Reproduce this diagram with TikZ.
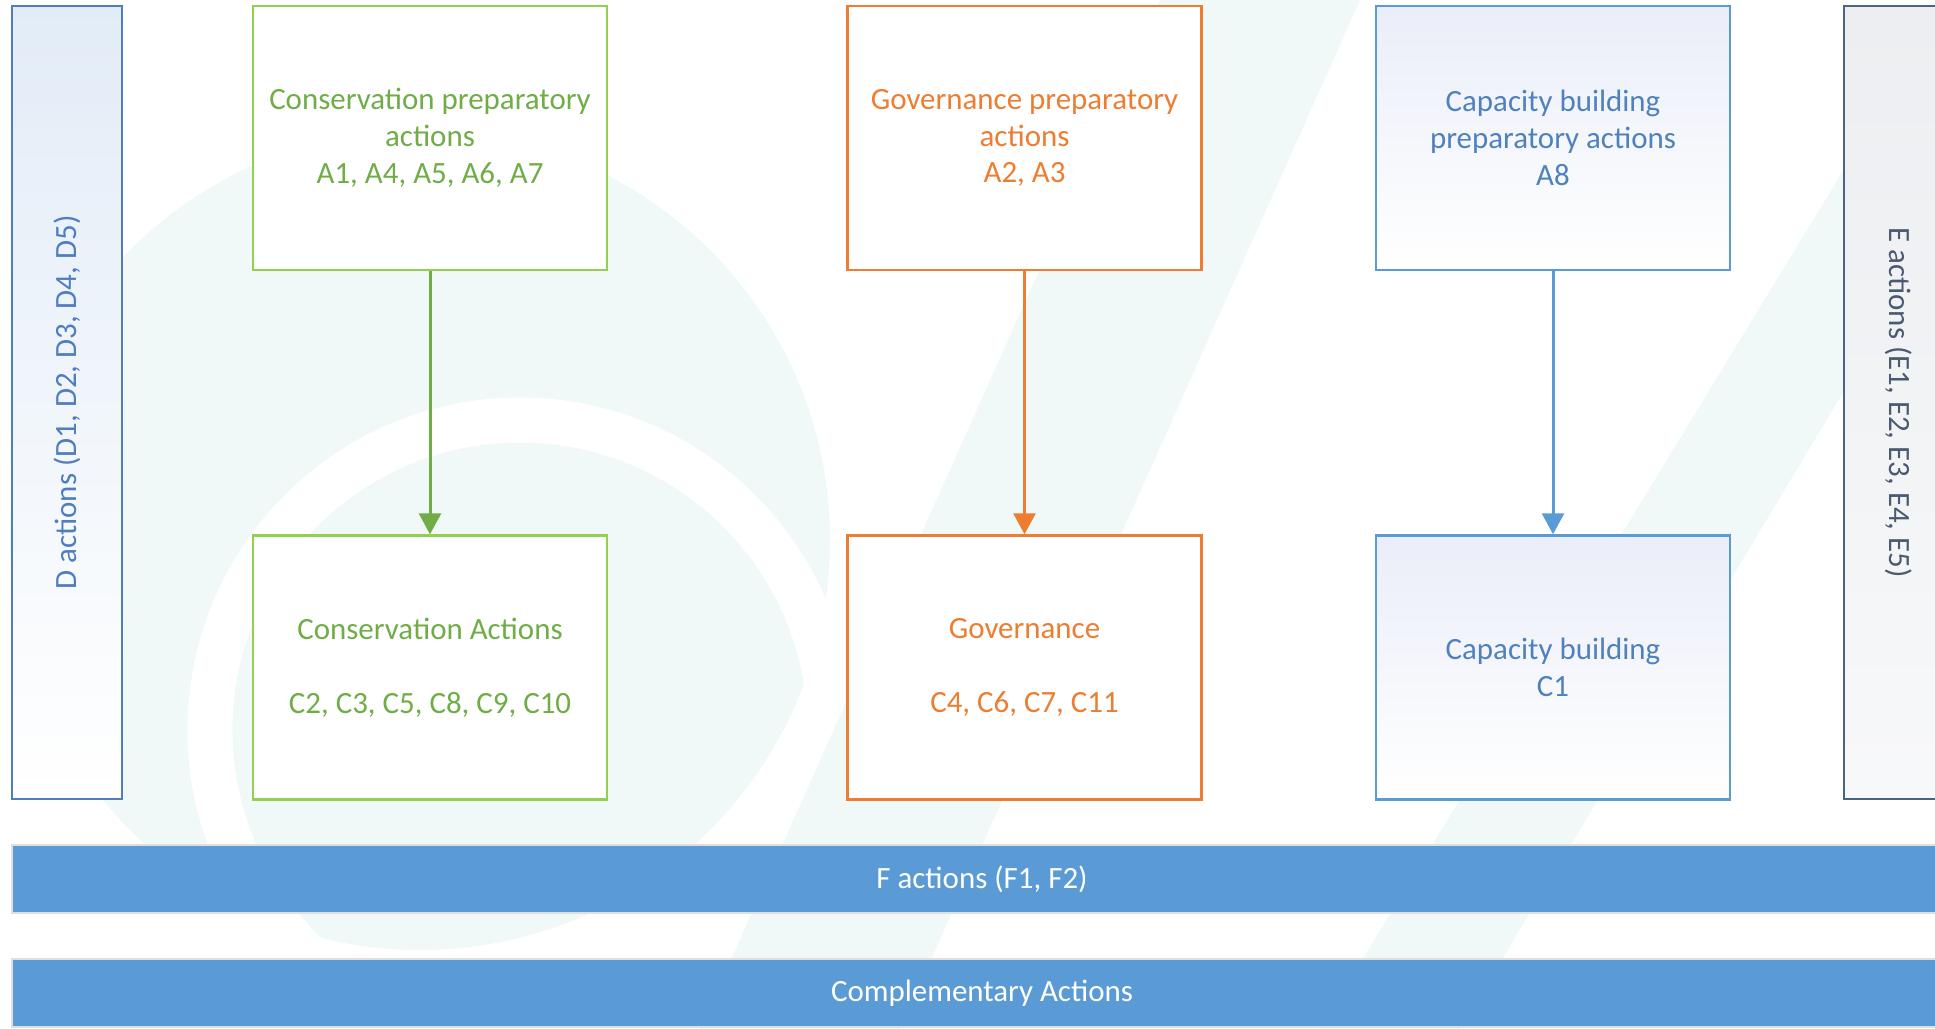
\documentclass[tikz,border=0pt]{standalone}
\usepackage{fontspec}
\setmainfont{Carlito}
\usetikzlibrary{arrows.meta}

\definecolor{consgreen}{HTML}{70AD47}
\definecolor{consline}{HTML}{92D050}
\definecolor{govorange}{HTML}{ED7D31}
\definecolor{capblue}{HTML}{5B9BD5}
\definecolor{captext}{HTML}{4F81BD}
\definecolor{capfill}{HTML}{EAEEF8}
\definecolor{barblue}{HTML}{5B9BD5}
\definecolor{dline}{HTML}{4F7DBF}
\definecolor{dfill}{HTML}{E2ECF7}
\definecolor{eline}{HTML}{4A6584}
\definecolor{etext}{HTML}{4A5A70}
\definecolor{efill}{HTML}{ECEEF1}
\definecolor{wmark}{HTML}{F0F8F8}

\begin{document}
\begin{tikzpicture}[
    font=\fontsize{8.8}{10.5}\selectfont,
    actbox/.style={draw, line width=0.7pt, minimum width=3.54cm, minimum height=2.64cm, align=center, inner sep=0pt},
    sidebox/.style={draw, line width=0.7pt, minimum width=1.10cm, minimum height=7.93cm, inner sep=0pt},
    barbox/.style={fill=barblue, draw=gray!25, line width=0.4pt, text=white, minimum width=19.40cm, minimum height=0.68cm, inner sep=0pt},
    flow/.style={line width=0.85pt, -{Triangle[width=0.22cm,length=0.21cm]}}
]
\useasboundingbox (0,0) rectangle (19.35,-10.29);
\clip (0,0) rectangle (19.35,-10.29);
% watermark
\fill[wmark] (4.2,-5.4) circle (4.1);
\draw[white, line width=0.45cm] (5.2,-7.3) circle (3.1);
\fill[wmark] (7.0,-10.29) -- (9.0,-10.29) -- (13.6,0) -- (11.6,0) -- cycle;
\fill[wmark] (13.2,-10.29) -- (14.6,-10.29) -- (19.35,-2.4) -- (19.35,-0.2) -- cycle;
% side columns
\node[sidebox, draw=dline, text=dline, top color=dfill, bottom color=white] (dact) at (0.67,-4.025) {\rotatebox{90}{D actions (D1, D2, D3, D4, D5)}};
\node[sidebox, draw=eline, text=etext, top color=efill, bottom color=efill!40!white] (eact) at (18.99,-4.025) {\rotatebox{-90}{E actions (E1, E2, E3, E4, E5)}};
% preparatory actions
\node[actbox, draw=consline, text=consgreen, fill=white] (consprep) at (4.30,-1.38) {Conservation preparatory\\actions\\A1, A4, A5, A6, A7};
\node[actbox, draw=govorange, text=govorange, fill=white] (govprep) at (10.245,-1.38) {Governance preparatory\\actions\\A2, A3};
\node[actbox, draw=capblue, text=captext, top color=capfill, bottom color=white] (capprep) at (15.53,-1.38) {Capacity building\\preparatory actions\\A8};
% C actions
\node[actbox, draw=consline, text=consgreen, fill=white] (cons) at (4.30,-6.675) {Conservation Actions\\[10.5pt]C2, C3, C5, C8, C9, C10};
\node[actbox, draw=govorange, text=govorange, fill=white] (gov) at (10.245,-6.675) {Governance\\[10.5pt]C4, C6, C7, C11};
\node[actbox, draw=capblue, text=captext, top color=capfill, bottom color=white] (cap) at (15.53,-6.675) {Capacity building\\C1};
% F actions and complementary
\node[barbox] (fact) at (9.82,-8.79) {F actions (F1, F2)};
\node[barbox] (compl) at (9.82,-9.93) {Complementary Actions};
% arrows
\draw[flow, consgreen] (consprep) -- (cons);
\draw[flow, govorange] (govprep) -- (gov);
\draw[flow, capblue] (capprep) -- (cap);
\end{tikzpicture}
\end{document}
